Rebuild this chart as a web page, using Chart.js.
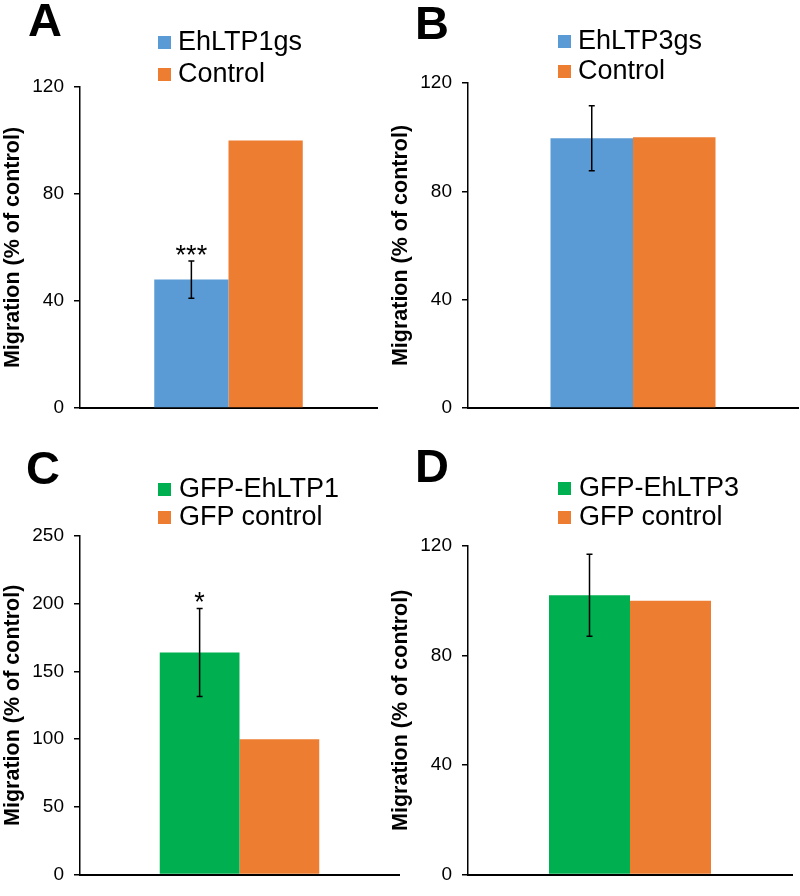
<!DOCTYPE html>
<html>
<head>
<meta charset="utf-8">
<script src="https://cdn.jsdelivr.net/npm/chart.js@4.4.1/dist/chart.umd.min.js"></script>
<style>
  body { margin: 0; background: #fff; font-family: "Liberation Sans", Arial, sans-serif; }
  #page { position: relative; width: 800px; height: 896px; overflow: hidden; }
  canvas { position: absolute; }
  .letter { position: absolute; font-weight: bold; font-size: 47px; line-height: 50px; color: #000; }
  .legend-box { position: absolute; width: 13px; height: 13px; }
  .legend-text { position: absolute; font-size: 27px; line-height: 30px; white-space: nowrap; color: #000; }
</style>
</head>
<body>
<div id="page">
  <canvas id="chartA" width="400" height="448" style="left:0;top:0"></canvas>
  <canvas id="chartB" width="412" height="448" style="left:388px;top:0"></canvas>
  <canvas id="chartC" width="400" height="448" style="left:0;top:448px"></canvas>
  <canvas id="chartD" width="412" height="448" style="left:388px;top:448px"></canvas>
</div>
<script>
// data
const seriesA = ["EhLTP1gs", "Control"];
const valuesA = [48, 100];
const errorsA = [7, 0];
const marksA = ["***", ""];
const ticksA = [0, 40, 80, 120];

const seriesB = ["EhLTP3gs", "Control"];
const valuesB = [99.6, 100];
const errorsB = [12, 0];
const marksB = ["", ""];
const ticksB = [0, 40, 80, 120];

const seriesC = ["GFP-EhLTP1", "GFP control"];
const valuesC = [164, 100];
const errorsC = [32.5, 0];
const marksC = ["*", ""];
const ticksC = [0, 50, 100, 150, 200, 250];

const seriesD = ["GFP-EhLTP3", "GFP control"];
const valuesD = [102, 100];
const errorsD = [15, 0];
const marksD = ["", ""];
const ticksD = [0, 40, 80, 120];

const yTitle = "Migration (% of control)";
const fontFam = "'Liberation Sans', Arial, sans-serif";

const BLUE = "#5B9BD5";
const ORANGE = "#ED7D31";
const GREEN = "#00B050";

// draws the error bars and the significance marks on top of the bars
const errorBars = {
    id: "errorBars",
    afterDatasetsDraw(chart, args, opts) {
        const ctx = chart.ctx;
        const yScale = chart.scales.y;
        chart.data.datasets.forEach((ds, i) => {
            const bar = chart.getDatasetMeta(i).data[0];
            const v = ds.data[0];
            const e = opts.errors[i];
            const x = bar.x;
            const yTop = yScale.getPixelForValue(v + e);
            ctx.save();
            if (e > 0) {
                const yBot = yScale.getPixelForValue(v - e);
                ctx.strokeStyle = "#000";
                ctx.lineWidth = 1.5;
                ctx.beginPath();
                ctx.moveTo(x, yTop); ctx.lineTo(x, yBot);
                ctx.moveTo(x - 3, yTop); ctx.lineTo(x + 3, yTop);
                ctx.moveTo(x - 3, yBot); ctx.lineTo(x + 3, yBot);
                ctx.stroke();
            }
            if (opts.marks[i]) {
                ctx.fillStyle = "#000";
                ctx.font = "27px " + fontFam;
                ctx.textAlign = "center";
                ctx.textBaseline = "alphabetic";
                ctx.fillText(opts.marks[i], x, yTop + 3);
            }
            ctx.restore();
        });
    }
};

function makePanel(id, series, values, errors, marks, ticks, colors, box) {
    new Chart(document.getElementById(id).getContext("2d"), {
        type: "bar",
        data: {
            labels: [""],
            datasets: series.map((name, i) => ({
                label: name,
                data: [values[i]],
                backgroundColor: colors[i],
                borderWidth: 0,
                categoryPercentage: 0.5,
                barPercentage: 1.0
            }))
        },
        options: {
            responsive: false,
            animation: false,
            events: [],
            layout: { padding: { left: 0, top: box.top, right: box.right, bottom: 0 } },
            plugins: {
                legend: { display: false },
                tooltip: { enabled: false },
                errorBars: { errors: errors, marks: marks }
            },
            scales: {
                x: {
                    grid: { display: false },
                    border: { color: "#000", width: 2 },
                    ticks: { display: false },
                    afterFit: s => { s.height = box.xh; }
                },
                y: {
                    min: ticks[0],
                    max: ticks[ticks.length - 1],
                    afterBuildTicks: s => { s.ticks = ticks.map(v => ({ value: v })); },
                    afterFit: s => { s.width = 80; },
                    border: { color: "#000", width: 1.5 },
                    grid: { drawOnChartArea: false, color: "#000", lineWidth: 1.5, tickLength: 6 },
                    ticks: { color: "#000", padding: 10, font: { size: 19, family: fontFam } },
                    title: {
                        display: true,
                        text: yTitle,
                        color: "#000",
                        padding: 0,
                        font: { size: 21.5, weight: "bold", family: fontFam }
                    }
                }
            }
        },
        plugins: [errorBars]
    });
}

makePanel("chartA", seriesA, valuesA, errorsA, marksA, ticksA, [BLUE, ORANGE], { top: 87, right: 23, xh: 40 });
makePanel("chartB", seriesB, valuesB, errorsB, marksB, ticksB, [BLUE, ORANGE], { top: 83, right: 2, xh: 40 });
makePanel("chartC", seriesC, valuesC, errorsC, marksC, ticksC, [GREEN, ORANGE], { top: 88, right: 1, xh: 8 });
makePanel("chartD", seriesD, valuesD, errorsD, marksD, ticksD, [GREEN, ORANGE], { top: 98, right: 8, xh: 8 });

// panel letters and legends as html text
const page = document.getElementById("page");
function addLetter(ch, left, baseline) {
    const d = document.createElement("div");
    d.className = "letter";
    d.textContent = ch;
    d.style.left = left + "px";
    d.style.top = (baseline - 41.3) + "px";
    page.appendChild(d);
}
function addLegend(series, colors, boxX, textX, baselines) {
    series.forEach((name, i) => {
        const b = document.createElement("div");
        b.className = "legend-box";
        b.style.background = colors[i];
        b.style.left = boxX + "px";
        b.style.top = (baselines[i] - 14) + "px";
        page.appendChild(b);
        const t = document.createElement("div");
        t.className = "legend-text";
        t.textContent = name;
        t.style.left = textX + "px";
        t.style.top = (baselines[i] - 24.5) + "px";
        page.appendChild(t);
    });
}
addLetter("A", 28, 36);
addLetter("B", 415, 39);
addLetter("C", 26, 484);
addLetter("D", 415, 482);
addLegend(seriesA, [BLUE, ORANGE], 158, 178, [50, 82]);
addLegend(seriesB, [BLUE, ORANGE], 558, 578, [49, 79]);
addLegend(seriesC, [GREEN, ORANGE], 158, 179, [497, 525]);
addLegend(seriesD, [GREEN, ORANGE], 558, 579, [496, 525]);
</script>
</body>
</html>
